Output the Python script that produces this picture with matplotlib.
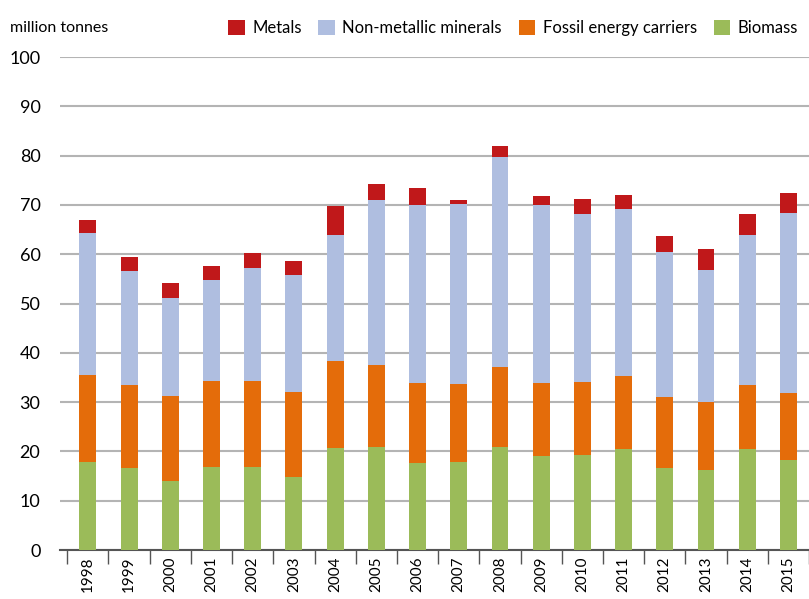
import numpy as np
import matplotlib
matplotlib.use('Agg')
import matplotlib.pyplot as plt

plt.rcParams['font.family'] = ['Lato', 'DejaVu Sans']

years = ['1998', '1999', '2000', '2001', '2002', '2003', '2004', '2005', '2006',
         '2007', '2008', '2009', '2010', '2011', '2012', '2013', '2014', '2015']

# cumulative tops, turned into layer sizes below
biomass_top = [17.9, 16.6, 14.0, 16.9, 16.9, 14.8, 20.7, 20.9, 17.7,
               17.9, 20.9, 19.1, 19.3, 20.4, 16.7, 16.2, 20.4, 18.3]
fossil_top = [35.4, 33.4, 31.2, 34.2, 34.2, 32.0, 38.3, 37.6, 33.9,
              33.6, 37.2, 33.8, 34.1, 35.3, 31.1, 30.1, 33.5, 31.9]
nonmet_top = [64.4, 56.5, 51.2, 54.7, 57.3, 55.7, 63.9, 71.0, 69.9,
              70.2, 79.7, 69.9, 68.1, 69.2, 60.4, 56.8, 63.9, 68.4]
metals_top = [67.0, 59.4, 54.1, 57.6, 60.2, 58.6, 69.7, 74.2, 73.4,
              71.0, 81.9, 71.8, 71.3, 72.1, 63.7, 61.0, 68.1, 72.4]

biomass = np.array(biomass_top)
fossil = np.array(fossil_top) - np.array(biomass_top)
nonmet = np.array(nonmet_top) - np.array(fossil_top)
metals = np.array(metals_top) - np.array(nonmet_top)

c_bio = '#9BBB59'
c_fos = '#E46C0A'
c_nmm = '#AFBEE0'
c_met = '#C0181A'

fig = plt.figure(figsize=(8.09, 5.99), dpi=100)
ax = fig.add_axes([0.074, 0.0818, 0.926, 0.823])

x = np.arange(len(years))
w = 0.41
ax.bar(x, biomass, w, color=c_bio, label='Biomass', zorder=3)
ax.bar(x, fossil, w, bottom=biomass, color=c_fos, label='Fossil energy carriers', zorder=3)
ax.bar(x, nonmet, w, bottom=biomass + fossil, color=c_nmm, label='Non-metallic minerals', zorder=3)
ax.bar(x, metals, w, bottom=biomass + fossil + nonmet, color=c_met, label='Metals', zorder=3)

ax.set_ylim(0, 100)
ax.set_xlim(-0.68, 17.46)
ax.set_yticks(range(0, 101, 10))
ax.yaxis.grid(True, color='#b4b4b4', linewidth=1.5, zorder=0)
ax.tick_params(axis='y', length=0, labelsize=13, pad=14)

ax.set_xticks(x)
ax.set_xticklabels(years, rotation=90, fontsize=11, va='top')
ax.tick_params(axis='x', length=0, pad=5)
ax.set_xticks(np.arange(-0.5, 18, 1), minor=True)
ax.tick_params(axis='x', which='minor', length=10, width=1, color='#555555')

for s in ['top', 'right', 'left']:
    ax.spines[s].set_visible(False)
ax.spines['bottom'].set_color('#555555')
ax.spines['bottom'].set_linewidth(1.5)

fig.text(0.012, 0.953, 'million tonnes', fontsize=11.5, va='center', ha='left')

h, l = ax.get_legend_handles_labels()
fig.legend(h[::-1], l[::-1], ncol=4, loc='center right', bbox_to_anchor=(1.005, 0.953),
           frameon=False, fontsize=12, handlelength=1.0, handleheight=1.0,
           handletextpad=0.45, columnspacing=1.0)

plt.savefig('out.png', dpi=100)
